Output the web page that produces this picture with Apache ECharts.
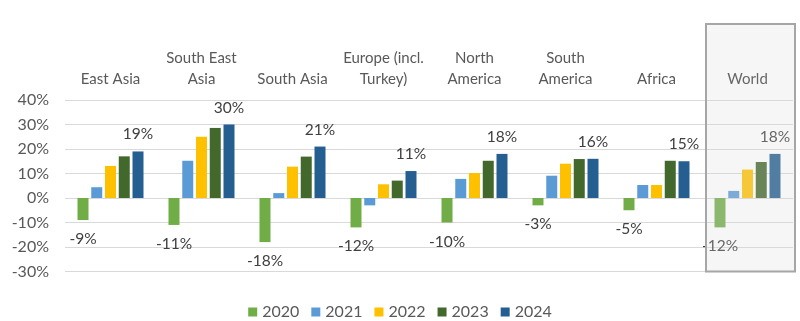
<!DOCTYPE html>
<html>
<head>
<meta charset="utf-8">
<script src="https://cdn.jsdelivr.net/npm/echarts@6/dist/echarts.min.js"></script>
<style>
  html, body { margin: 0; padding: 0; background: #ffffff; }
  #chart { width: 800px; height: 321px; }
</style>
</head>
<body>
<div id="chart"></div>
<script>
// Regions along the category axis
const regions = ['East Asia', 'South East\nAsia', 'South Asia', 'Europe (incl.\nTurkey)', 'North\nAmerica', 'South\nAmerica', 'Africa', 'World'];

// Growth per year, in percent
const years = ['2020', '2021', '2022', '2023', '2024'];
const y2020 = [-9, -11, -18, -12, -10, -3, -5, -12];
const y2021 = [4.4, 15.2, 2.0, -3.0, 7.8, 9.1, 5.3, 2.9];
const y2022 = [13.1, 25.0, 12.8, 5.6, 10.2, 14.0, 5.3, 11.6];
const y2023 = [17.0, 28.6, 16.9, 7.1, 15.2, 15.9, 15.2, 14.7];
const y2024 = [19, 30, 21, 11, 18, 16, 15, 18];

// Value axis ticks
const yMin = -30, yMax = 40, yStep = 10;

const colors = ['#70AD47', '#5B9BD5', '#FFC000', '#43682B', '#255E91'];
const FONT = 'Lato, "Noto Sans", sans-serif';

const labelStyle = {
  show: true,
  formatter: '{c}%',
  color: '#404040',
  fontFamily: FONT,
  fontSize: 15.5
};

function makeSeries(name, data, color, label) {
  return {
    name: name,
    type: 'bar',
    data: data,
    barWidth: 11,
    barGap: '25%',
    itemStyle: { color: color },
    label: label || { show: false },
    emphasis: { disabled: true }
  };
}

const chart = echarts.init(document.getElementById('chart'), null, { renderer: 'canvas' });

const option = {
  animation: false,
  color: colors,
  grid: { left: 65, right: 7, top: 100, bottom: 49.5, containLabel: false },
  legend: {
    data: years,
    top: 299,
    left: 'center',
    icon: 'rect',
    itemWidth: 9,
    itemHeight: 9,
    itemGap: 12,
    textStyle: { color: '#595959', fontFamily: FONT, fontSize: 16 }
  },
  xAxis: {
    type: 'category',
    data: regions,
    position: 'top',
    axisLine: { show: false },
    axisTick: { show: false },
    axisLabel: {
      // the World label sits under the tinted box, so it starts darker
      color: function (value, index) {
        return index === regions.length - 1 ? '#404040' : '#595959';
      },
      fontFamily: FONT,
      fontSize: 15,
      lineHeight: 21,
      margin: 10,
      interval: 0
    }
  },
  yAxis: {
    type: 'value',
    min: yMin,
    max: yMax,
    interval: yStep,
    axisLine: { show: false },
    axisTick: { show: false },
    splitLine: { lineStyle: { color: '#D9D9D9', width: 1 } },
    axisLabel: {
      formatter: '{value}%',
      color: '#595959',
      fontFamily: FONT,
      fontSize: 16,
      margin: 16
    }
  },
  series: [
    makeSeries(years[0], y2020, colors[0], Object.assign({ position: 'bottom', distance: 11 }, labelStyle)),
    makeSeries(years[1], y2021, colors[1]),
    makeSeries(years[2], y2022, colors[2]),
    makeSeries(years[3], y2023, colors[3]),
    makeSeries(years[4], y2024, colors[4], Object.assign({ position: 'top', distance: 9 }, labelStyle))
  ]
};

chart.setOption(option);

// Highlight box around the World group, placed from the axis scales
const last = regions.length - 1;
const cx = chart.convertToPixel({ xAxisIndex: 0 }, regions[last]);
const cxPrev = chart.convertToPixel({ xAxisIndex: 0 }, regions[last - 1]);
const band = cx - cxPrev;
const yBottom = chart.convertToPixel({ yAxisIndex: 0 }, yMin);
const yTop = chart.convertToPixel({ yAxisIndex: 0 }, yMax);
const boxLeft = cx - band / 2 + 4;
const boxRight = cx + band / 2 + 2;

chart.setOption({
  graphic: [{
    type: 'rect',
    z: 100,
    silent: true,
    shape: { x: boxLeft, y: yTop - 76, width: boxRight - boxLeft, height: yBottom - (yTop - 76) },
    style: { fill: 'rgba(219,219,219,0.25)', stroke: '#A6A6A6', lineWidth: 2 }
  }]
});
</script>
</body>
</html>
